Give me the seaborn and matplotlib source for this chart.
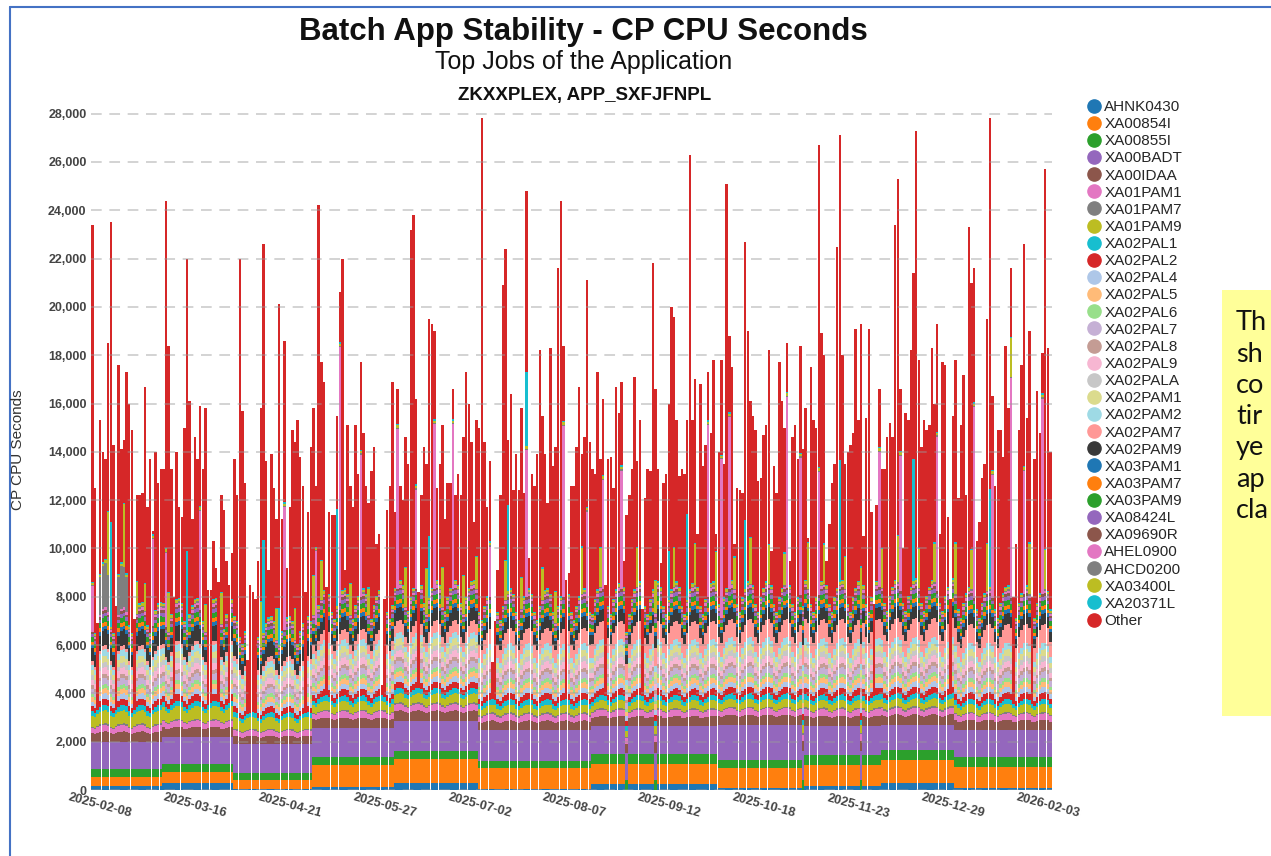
import numpy as np
import pandas as pd
import matplotlib
matplotlib.use('Agg')
import matplotlib.pyplot as plt
from matplotlib.lines import Line2D
from matplotlib.patches import Rectangle
from matplotlib.transforms import ScaledTranslation, blended_transform_factory
import seaborn as sns

# Jobs in stacking order (bottom -> top) and their colours
jobs = ['AHNK0430', 'XA00854I', 'XA00855I', 'XA00BADT', 'XA00IDAA', 'XA01PAM1', 'XA01PAM7',
        'XA01PAM9', 'XA02PAL1', 'XA02PAL2', 'XA02PAL4', 'XA02PAL5', 'XA02PAL6', 'XA02PAL7',
        'XA02PAL8', 'XA02PAL9', 'XA02PALA', 'XA02PAM1', 'XA02PAM2', 'XA02PAM7', 'XA02PAM9',
        'XA03PAM1', 'XA03PAM7', 'XA03PAM9', 'XA08424L', 'XA09690R', 'AHEL0900', 'AHCD0200',
        'XA03400L', 'XA20371L', 'Other']
job_colors = ['#1f77b4', '#ff7f0e', '#2ca02c', '#9467bd', '#8c564b', '#e377c2', '#7f7f7f',
              '#bcbd22', '#17becf', '#d62728', '#aec7e8', '#ffbb78', '#98df8a', '#c5b0d5',
              '#c49c94', '#f7b6d2', '#c7c7c7', '#dbdb8d', '#9edae5', '#ff9896', '#393939',
              '#1f77b4', '#ff7f0e', '#2ca02c', '#9467bd', '#8c564b', '#e377c2', '#7f7f7f',
              '#bcbd22', '#17becf', '#d62728']

# Daily top of each stacked bar (CP CPU seconds), from 2025-02-08
total_tops = [
    23400, 12500, 6900, 15300, 14000, 13700, 18500, 23500, 14300, 7600,
    17600, 14100, 14500, 17300, 16000, 14900, 7100, 12200, 12200, 12300,
    16700, 11700, 13700, 10300, 14000, 12700, 13300, 13300, 24400, 18400,
    13300, 8000, 14000, 11700, 11300, 15000, 22000, 16100, 11200, 14600,
    13700, 15900, 13300, 15800, 8300, 8300, 10300, 9200, 8600, 12200,
    11600, 9500, 8500, 9800, 13700, 12200, 22000, 15700, 12700, 5400,
    8500, 8200, 7900, 9500, 15800, 22600, 13600, 9100, 13900, 12500,
    11200, 20100, 11200, 18600, 9200, 11700, 14900, 14400, 15300, 13800,
    12600, 8200, 11500, 14200, 15800, 12600, 24200, 17700, 16900, 8400,
    11500, 11400, 11400, 15500, 20600, 22000, 9100, 15100, 12600, 11700,
    15100, 13100, 17700, 14800, 12600, 11900, 13200, 14200, 10200, 10600,
    4300, 7900, 11600, 12600, 16900, 11500, 16600, 12600, 12000, 14600,
    13500, 23200, 23800, 16200, 8200, 12200, 14200, 13500, 19500, 19300,
    19000, 12500, 13500, 15100, 11200, 12700, 12700, 16600, 12200, 13100,
    12200, 14600, 17300, 16000, 14400, 11100, 15300, 15000, 27800, 14400,
    11700, 13600, 5300, 7000, 9100, 12200, 20900, 22400, 14500, 16400,
    12400, 13900, 12400, 15800, 12300, 24800, 9600, 13100, 12600, 13900,
    18200, 15500, 13900, 11900, 18300, 13400, 14200, 21600, 24400, 18400,
    8700, 9000, 12600, 12600, 14200, 16700, 13900, 14600, 21100, 14400,
    13300, 13100, 17300, 13700, 16200, 8500, 13700, 13800, 12500, 16700,
    15600, 16900, 9500, 11400, 12200, 13300, 17100, 13600, 15300, 7500,
    12100, 13300, 13200, 21800, 16600, 13300, 9400, 12700, 13100, 16000,
    20000, 19600, 15300, 13000, 13300, 13100, 15300, 26300, 15300, 17000,
    10600, 16800, 13400, 14300, 17300, 14800, 17800, 10600, 14000, 17800,
    13500, 25100, 18800, 17500, 10200, 12500, 12400, 12300, 22700, 19000,
    16100, 15500, 14900, 12800, 12900, 14700, 15100, 18200, 9900, 13400,
    12300, 17700, 16100, 15000, 18500, 9500, 14600, 15100, 13700, 18400,
    14100, 15800, 9600, 17500, 15300, 15000, 26700, 18900, 18000, 9500,
    11000, 12700, 13500, 22500, 27100, 18000, 13500, 14000, 14300, 14800,
    19100, 15300, 19300, 10500, 15400, 19100, 11500, 7700, 11800, 16600,
    13300, 13300, 14600, 15200, 14600, 23400, 25300, 16600, 10000, 15600,
    15300, 18200, 21400, 27300, 17800, 14200, 15300, 14900, 15100, 18300,
    16000, 19300, 10600, 17700, 17600, 11300, 7900, 15500, 17800, 12100,
    15100, 17200, 12200, 23300, 21000, 21600, 10300, 11100, 12900, 13500,
    19500, 27800, 16300, 12600, 14900, 14900, 13800, 18400, 15800, 21600,
    8000, 10200, 14900, 17600, 22600, 15400, 19000, 8000, 13700, 16500,
    14800, 18100, 25700, 18300, 14000,
]

# Day index where each plateau of the lower jobs starts
period_starts = [0, 27, 54, 84, 115, 147, 190, 238, 270, 300, 328]

# Typical daily CPU seconds of each job per plateau
ahnk0430 = [170, 300, 40, 130, 280, 50, 250, 70, 150, 300, 90]
xa00854i = [380, 450, 380, 900, 1000, 850, 830, 860, 900, 950, 850]
xa00855i = [320, 330, 300, 330, 330, 320, 400, 330, 400, 400, 430]
xa00badt = [1100, 1100, 1200, 1200, 1250, 1250, 1150, 1450, 1200, 1050, 1100]
xa00idaa = [420, 400, 300, 400, 400, 380, 400, 380, 400, 400, 400]
xa01pam1 = [250, 250, 220, 250, 250, 250, 250, 250, 250, 250, 250]
xa01pam7 = [60, 60, 50, 60, 60, 60, 60, 60, 60, 60, 60]
xa01pam9 = [500, 500, 450, 350, 350, 300, 300, 300, 300, 300, 300]
xa02pal1 = [200, 200, 180, 200, 200, 200, 200, 200, 200, 200, 200]
xa02pal2 = [250, 250, 230, 250, 250, 250, 250, 250, 250, 250, 250]
xa02pal4 = [200, 200, 180, 200, 200, 200, 200, 200, 200, 200, 200]
xa02pal5 = [200, 200, 180, 200, 200, 200, 200, 200, 200, 200, 200]
xa02pal6 = [150, 150, 140, 150, 150, 150, 150, 150, 150, 150, 150]
xa02pal7 = [250, 250, 230, 250, 250, 250, 250, 250, 250, 250, 250]
xa02pal8 = [150, 150, 140, 150, 150, 150, 150, 150, 150, 150, 150]
xa02pal9 = [250, 250, 230, 250, 250, 250, 250, 250, 250, 250, 250]
xa02pala = [200, 200, 180, 200, 200, 200, 200, 200, 200, 200, 200]
xa02pam1 = [250, 250, 230, 250, 250, 250, 250, 250, 250, 250, 250]
xa02pam2 = [250, 250, 230, 250, 250, 250, 250, 250, 250, 250, 250]
xa02pam7 = [150, 150, 200, 400, 450, 600, 700, 700, 750, 750, 700]
xa02pam9 = [600, 600, 550, 500, 500, 450, 450, 450, 450, 450, 450]
xa03pam1 = [150, 150, 140, 150, 150, 150, 150, 150, 150, 150, 150]
xa03pam7 = [150, 150, 140, 150, 150, 150, 150, 150, 150, 150, 150]
xa03pam9 = [200, 200, 180, 200, 200, 200, 200, 200, 200, 200, 200]
xa08424l = [150, 150, 140, 150, 150, 150, 150, 150, 150, 150, 150]
xa09690r = [100, 100, 90, 100, 100, 100, 100, 100, 100, 100, 100]
ahel0900 = [100, 100, 90, 100, 100, 100, 100, 100, 100, 100, 100]
ahcd0200 = [50, 50, 50, 50, 50, 50, 50, 50, 50, 50, 50]
xa03400l = [100, 100, 90, 100, 100, 100, 100, 100, 100, 100, 100]
xa20371l = [50, 50, 50, 50, 50, 50, 50, 50, 50, 50, 50]

# Weekly swell of the middle jobs, Monday .. Sunday
weekday_wave = [0.95, 1.02, 1.07, 1.08, 1.04, 0.90, 0.84]

# Days where the upper jobs did not run (red reaches down into the stack)
short_days = [2, 9, 16, 31, 44, 45, 48, 52, 59, 60, 61, 62, 81, 89, 110, 111, 124,
              152, 153, 180, 195, 209, 297, 326, 350, 357]
# Days with no AHNK0430 / XA00854I
missing_low_days = [203, 214, 270, 292]

# Extra CPU seconds on spike days
ahel0900_spikes = {0: 1800, 23: 3500, 28: 3000, 41: 4000, 73: 5000, 85: 3000, 94: 10500,
                   102: 5800, 116: 6500, 123: 4000, 130: 6700, 137: 6700, 151: 2000,
                   165: 6000, 179: 7000, 188: 3600, 194: 4400, 201: 4800, 234: 7000,
                   239: 6500, 242: 7000, 264: 7800, 269: 5600, 276: 5000, 299: 5500,
                   307: 5500, 321: 6300, 335: 7800, 342: 5000, 349: 9000, 354: 5000,
                   361: 8000}
xa20371l_spikes = {7: 4300, 36: 3200, 65: 3800, 71: 1500, 93: 4000, 128: 2500, 158: 3500,
                   165: 3000, 219: 2000, 226: 3500, 248: 2800, 284: 5000, 312: 5000,
                   341: 4000}
xa03400l_spikes = {6: 2500, 12: 2500, 17: 1200, 20: 1000, 29: 1500, 43: 1000, 49: 1200,
                   64: 1800, 70: 1200, 77: 1200, 84: 1500, 87: 1500, 98: 1200, 105: 1000,
                   119: 1500, 127: 1800, 133: 1500, 141: 1500, 146: 1200, 157: 1500,
                   163: 1200, 171: 1200, 176: 1200, 186: 1800, 193: 1500, 207: 1500,
                   214: 1200, 221: 1500, 229: 1600, 237: 1500, 244: 1200, 250: 1800,
                   257: 1500, 263: 1200, 272: 1800, 278: 1500, 286: 1200, 292: 1600,
                   300: 1500, 306: 1800, 314: 1500, 320: 1500, 328: 2000, 334: 1500,
                   340: 1800, 349: 1500, 356: 2000, 362: 1500}
ahcd0200_spikes = {3: 1500, 4: 1700, 5: 1800, 6: 1500, 10: 1500, 11: 1700, 12: 1600, 13: 1400}

tick_step = 36

# ---- build the daily table ----
dates = pd.date_range('2025-02-08', periods=len(total_tops), freq='D')
n = len(dates)
period_idx = np.searchsorted(period_starts, np.arange(n), side='right') - 1
wave = np.array(weekday_wave)[dates.weekday]

level_lists = [ahnk0430, xa00854i, xa00855i, xa00badt, xa00idaa, xa01pam1, xa01pam7, xa01pam9,
               xa02pal1, xa02pal2, xa02pal4, xa02pal5, xa02pal6, xa02pal7, xa02pal8, xa02pal9,
               xa02pala, xa02pam1, xa02pam2, xa02pam7, xa02pam9, xa03pam1, xa03pam7, xa03pam9,
               xa08424l, xa09690r, ahel0900, ahcd0200, xa03400l, xa20371l]

cols = {}
for k, (job, lv) in enumerate(zip(jobs[:-1], level_lists)):
    v = np.array(lv, dtype=float)[period_idx]
    if k >= 4:
        v = v * wave
    if k >= 10:
        v[short_days] = 0
    cols[job] = v
for d in missing_low_days:
    cols['AHNK0430'][d] = 0
    cols['XA00854I'][d] = 0
for spikes, job in [(ahel0900_spikes, 'AHEL0900'), (xa20371l_spikes, 'XA20371L'),
                    (xa03400l_spikes, 'XA03400L'), (ahcd0200_spikes, 'AHCD0200')]:
    for d, a in spikes.items():
        cols[job][d] += a
base = np.sum(list(cols.values()), axis=0)
cols['Other'] = np.maximum(np.array(total_tops) - base, 150)

df = pd.DataFrame(cols)
df['day'] = np.arange(n)
df_long = df.melt(id_vars='day', var_name='job', value_name='cpu')

# ---- draw ----
sns.set_theme(style='white')
plt.rcParams['font.family'] = ['Liberation Sans', 'DejaVu Sans']

fig = plt.figure(figsize=(12.71, 8.56), dpi=100)
ax = fig.add_axes([0.0714, 0.0771, 0.7563, 0.8014])

sns.histplot(data=df_long, x='day', weights='cpu', hue='job', hue_order=jobs[::-1],
             palette=dict(zip(jobs, job_colors)), multiple='stack', discrete=True,
             shrink=0.93, linewidth=0, alpha=1, legend=False, ax=ax)

ax.set_xlim(-0.6, n - 0.4)
ax.set_ylim(0, 28400)
ax.set_yticks(range(0, 28001, 2000))
ax.set_yticklabels([f'{v:,}' for v in range(0, 28001, 2000)], fontsize=9,
                   fontweight='bold', color='#444444')
ticks = list(range(0, n, tick_step))
ax.set_xticks(ticks)
ax.set_xticklabels([])
# date labels, tilted and hanging just right of each tick
lab_tr = blended_transform_factory(ax.transData, ax.transAxes) + \
    ScaledTranslation(8 / 100, -16 / 100, fig.dpi_scale_trans)
for t in ticks:
    ax.text(t, 0, dates[t].strftime('%Y-%m-%d'), transform=lab_tr, rotation=-15,
            rotation_mode='anchor', ha='center', va='center', fontsize=9.2,
            fontweight='bold', color='#444444', clip_on=False)
ax.tick_params(axis='x', length=4, color='#999999', pad=6)
ax.tick_params(axis='y', length=0, pad=3)
for s in ax.spines.values():
    s.set_visible(False)
ax.set_axisbelow(False)
ax.yaxis.grid(True, linestyle=(0, (7, 5)), color='#9a9a9a', linewidth=1.1, alpha=0.55)
ax.xaxis.grid(False)
ax.set_xlabel('')
ax.set_ylabel('')

fig.text(0.4587, 0.9626, 'Batch App Stability - CP CPU Seconds', ha='center', va='center',
         fontsize=22.5, fontweight='bold', color='#111111')
fig.text(0.4590, 0.9276, 'Top Jobs of the Application', ha='center', va='center',
         fontsize=18, color='#111111')
fig.text(0.4600, 0.8890, 'ZKXXPLEX, APP_SXFJFNPL', ha='center', va='center',
         fontsize=13.5, fontweight='bold', color='#111111')
fig.text(0.0142, 0.4743, 'CP CPU Seconds', rotation=90, ha='center', va='center',
         fontsize=11, color='#333333')

handles = [Line2D([], [], linestyle='none', marker='o', markersize=9.5,
                  markerfacecolor=c, markeredgecolor=c) for c in job_colors]
fig.legend(handles, jobs, loc='upper left', bbox_to_anchor=(1086 / 1271, 1 - 100 / 856),
           frameon=False, fontsize=11, labelspacing=0.205, handletextpad=0.2,
           handlelength=1.0, borderaxespad=0, borderpad=0)

# yellow note box at the right edge
fig.add_artist(Rectangle((1222 / 1271, 1 - 716 / 856), 60 / 1271, 426 / 856,
                         transform=fig.transFigure, facecolor='#ffff99', edgecolor='none'))
for i, w in enumerate(['Th', 'sh', 'co', 'tir', 'ye', 'ap', 'cla']):
    fig.text(1236 / 1271, 1 - (323 + i * 31.2) / 856, w, ha='left', va='center',
             fontsize=19.5, family=['Lato', 'DejaVu Sans'], color='#111111')

# blue frame of the slide
fig.add_artist(Line2D([10 / 1271, 1], [1 - 7 / 856, 1 - 7 / 856], transform=fig.transFigure,
                      color='#4472c4', linewidth=1.5))
fig.add_artist(Line2D([10 / 1271, 10 / 1271], [0, 1 - 7 / 856], transform=fig.transFigure,
                      color='#4472c4', linewidth=1.5))

fig.savefig('out.png', dpi=100)
